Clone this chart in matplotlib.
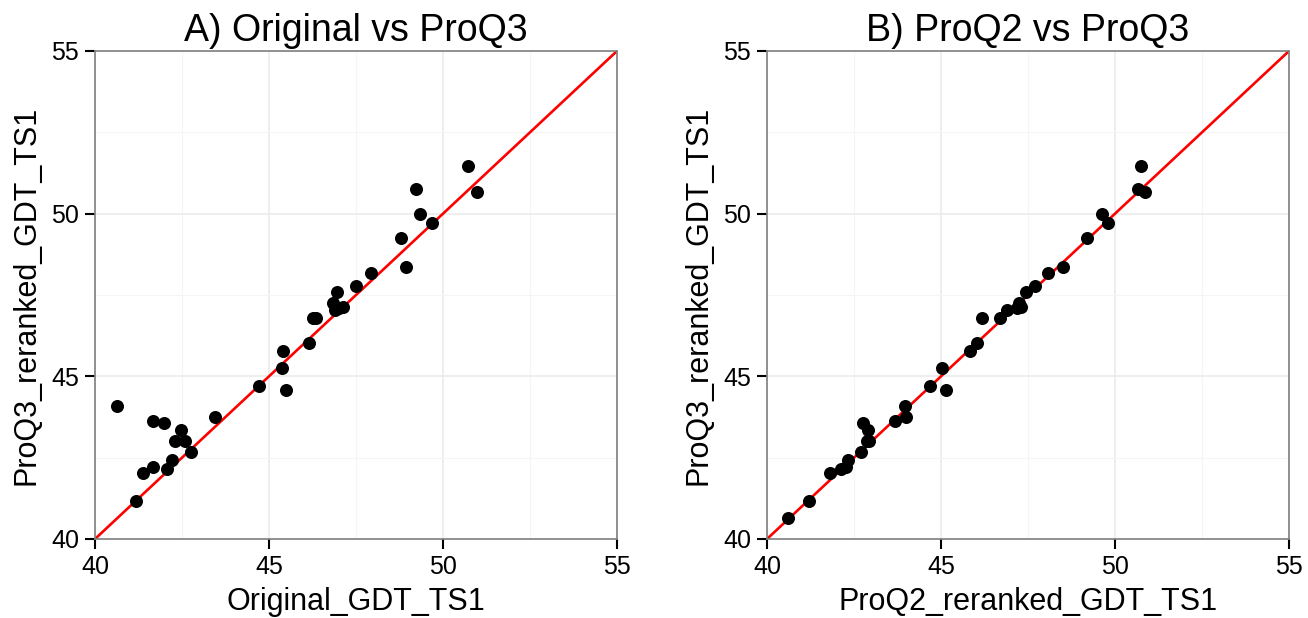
import numpy as np
import matplotlib
matplotlib.use("Agg")
import matplotlib.pyplot as plt
from matplotlib.ticker import MultipleLocator

plt.rcParams['font.family'] = ['Liberation Sans', 'DejaVu Sans']

# GDT_TS1 values per target
proq3 = [44.10, 43.63, 43.56, 43.35, 43.01, 43.02, 42.67, 43.74, 42.43, 42.20,
         42.02, 42.15, 41.18, 44.69, 45.25, 44.59, 51.46, 50.68, 50.76, 50.00,
         49.70, 49.26, 48.35, 48.18, 47.78, 47.58, 47.25, 47.14, 47.04, 47.10,
         46.78, 46.80, 46.02, 45.79, 40.64]
original = [40.64, 41.66, 41.98, 42.47, 42.31, 42.59, 42.76, 43.46, 42.20, 41.68,
            41.37, 42.07, 41.18, 44.70, 45.38, 45.48, 50.73, 50.99, 49.21, 49.34,
            49.67, 48.78, 48.93, 47.93, 47.51, 46.94, 46.85, 47.13, 46.91, 47.00,
            46.27, 46.35, 46.14, 45.41, np.nan]
proq2 = [43.97, 43.69, 42.75, 42.89, 42.87, 42.93, 42.69, 43.99, 42.33, 42.27,
         41.81, 42.13, 41.20, 44.69, 45.04, 45.15, 50.74, 50.85, 50.66, 49.64,
         49.81, 49.20, 48.50, 48.07, 47.70, 47.43, 47.25, 47.31, 46.90, 47.19,
         46.18, 46.69, 46.04, 45.82, 40.60]

panels = [
    ("A) Original vs ProQ3", original, "Original_GDT_TS1"),
    ("B) ProQ2 vs ProQ3", proq2, "ProQ2_reranked_GDT_TS1"),
]

fig = plt.figure(figsize=(13.08, 6.18), dpi=100)
lefts = [95 / 1308, 767 / 1308]
w = 522 / 1308
b = 79 / 618
h = 488 / 618

for left, (title, xs, xlabel) in zip(lefts, panels):
    ax = fig.add_axes([left, b, w, h])
    ax.set_xlim(40, 55)
    ax.set_ylim(40, 55)
    ax.xaxis.set_major_locator(MultipleLocator(5))
    ax.yaxis.set_major_locator(MultipleLocator(5))
    ax.xaxis.set_minor_locator(MultipleLocator(2.5))
    ax.yaxis.set_minor_locator(MultipleLocator(2.5))
    ax.grid(which='major', color='#ebebeb', linewidth=1.2)
    ax.grid(which='minor', color='#f5f5f5', linewidth=0.8)
    ax.set_axisbelow(True)
    for s in ax.spines.values():
        s.set_color('#7f7f7f')
        s.set_linewidth(1.2)
    ax.tick_params(which='major', length=7.5, width=1.5, color='black',
                   labelsize=18, labelcolor='black', pad=4)
    ax.tick_params(which='minor', length=0)
    ax.plot([40, 55], [40, 55], color='red', linewidth=1.9, zorder=2)
    ax.scatter(xs, proq3, s=88, color='black', linewidths=0, zorder=3)
    ax.set_title(title, fontsize=27, pad=7)
    ax.set_xlabel(xlabel, fontsize=22, labelpad=6)
    ax.set_ylabel("ProQ3_reranked_GDT_TS1", fontsize=22, labelpad=7)

fig.savefig("out.png", dpi=100)
